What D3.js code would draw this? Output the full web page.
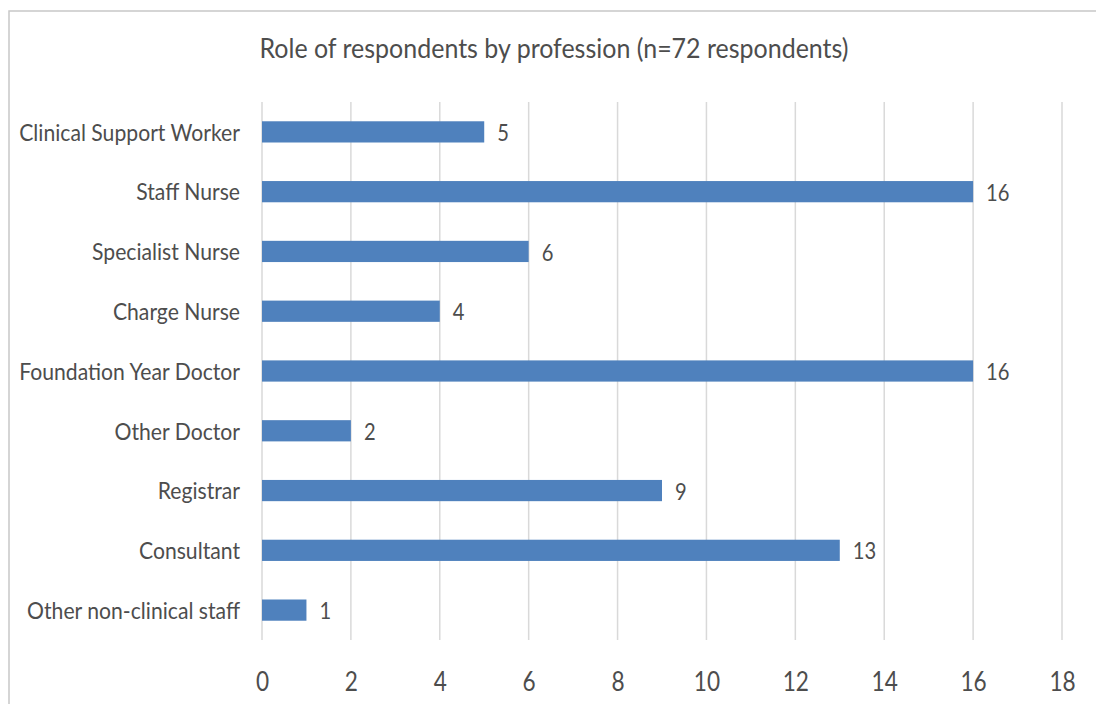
<!DOCTYPE html>
<html>
<head>
<meta charset="utf-8">
<script src="https://cdn.jsdelivr.net/npm/d3@7"></script>
<style>
  html, body { margin: 0; padding: 0; background: #fff; }
  svg { display: block; }
  text { font-family: Lato, "Open Sans", sans-serif; fill: #4d4d4d; }
</style>
</head>
<body>
<svg id="chart" width="1096" height="704"></svg>
<script>
// Respondents per role
const roles = [
  "Clinical Support Worker",
  "Staff Nurse",
  "Specialist Nurse",
  "Charge Nurse",
  "Foundation Year Doctor",
  "Other Doctor",
  "Registrar",
  "Consultant",
  "Other non-clinical staff"
];
const counts = [5, 16, 6, 4, 16, 2, 9, 13, 1];
const xTicks = [0, 2, 4, 6, 8, 10, 12, 14, 16, 18];
const title = "Role of respondents by profession (n=72 respondents)";

const svg = d3.select("#chart");
const W = 1096, H = 704;
const plot = { left: 262, right: 1062, top: 102, bottom: 640 };
const ink = "#4d4d4d";

// narrow a text selection horizontally to give a condensed face
function condense(sel, ratio) {
  sel.each(function () {
    const len = this.getComputedTextLength();
    d3.select(this)
      .attr("textLength", len * ratio)
      .attr("lengthAdjust", "spacingAndGlyphs");
  });
}

// chart frame (left and top edges)
svg.append("path")
  .attr("d", `M9,${H} V11 H${W}`)
  .attr("fill", "none")
  .attr("stroke", "#c8c8c8")
  .attr("stroke-width", 1.5);

const x = d3.scaleLinear().domain([0, 18]).range([plot.left, plot.right]);
const y = d3.scaleBand().domain(roles).range([plot.top, plot.bottom]).paddingInner(0.645).paddingOuter(0.3225);

// vertical gridlines
svg.append("g")
  .selectAll("line")
  .data(xTicks)
  .join("line")
  .attr("x1", d => x(d)).attr("x2", d => x(d))
  .attr("y1", plot.top).attr("y2", plot.bottom)
  .attr("stroke", "#d9d9d9")
  .attr("stroke-width", 1.5);

// x tick labels
const xAxis = d3.axisBottom(x).tickValues(xTicks).tickSize(0).tickPadding(0);
const gx = svg.append("g").attr("transform", `translate(0,${plot.bottom + 51})`).call(xAxis);
gx.select(".domain").remove();
gx.selectAll("text")
  .attr("font-size", 26)
  .attr("font-family", "Lato, 'Open Sans', sans-serif")
  .attr("fill", ink)
  .attr("dy", 0)
  .call(condense, 0.87);

// category labels
const yAxis = d3.axisLeft(y).tickSize(0).tickPadding(22);
const gy = svg.append("g").attr("transform", `translate(${plot.left},0)`).call(yAxis);
gy.select(".domain").remove();
gy.selectAll("text")
  .attr("font-size", 23)
  .attr("font-family", "Lato, 'Open Sans', sans-serif")
  .attr("fill", ink)
  .attr("dy", "0.38em")
  .call(condense, 0.92);

// bars
svg.append("g")
  .selectAll("rect")
  .data(roles)
  .join("rect")
  .attr("x", x(0))
  .attr("y", d => y(d))
  .attr("width", (d, i) => x(counts[i]) - x(0))
  .attr("height", y.bandwidth())
  .attr("fill", "#4f81bd");

// value labels
svg.append("g")
  .selectAll("text")
  .data(roles)
  .join("text")
  .attr("x", (d, i) => x(counts[i]) + 13)
  .attr("y", d => y(d) + y.bandwidth() / 2)
  .attr("dy", "0.38em")
  .attr("font-size", 24)
  .text((d, i) => counts[i])
  .call(condense, 0.84);

// title
svg.append("text")
  .attr("x", 554)
  .attr("y", 58)
  .attr("text-anchor", "middle")
  .attr("font-size", 27)
  .text(title)
  .call(condense, 0.925);
</script>
</body>
</html>
